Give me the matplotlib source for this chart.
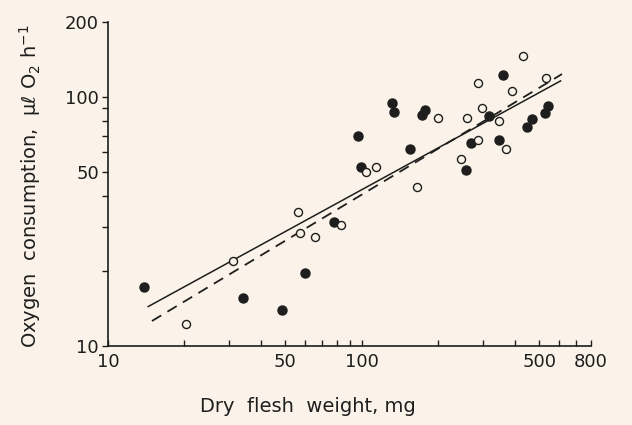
import numpy as np
import matplotlib
matplotlib.use('Agg')
import matplotlib.pyplot as plt
from matplotlib.ticker import FixedLocator, NullFormatter

# filled circles (dry flesh weight mg, O2 consumption ul/h)
filled_w = [13.9, 34.1, 48.4, 59.7, 77.8, 96.4, 98.9, 131, 134.5, 154.5, 173,
            178, 258, 269, 317, 347, 359, 448, 470, 527, 541]
filled_o2 = [17.3, 15.6, 14.0, 19.6, 31.4, 69.9, 52.5, 94.4, 87.1, 61.9, 84.7,
             88.7, 50.8, 65.3, 83.6, 67.0, 122, 75.5, 81.8, 86.5, 92.1]

# open circles
open_w = [20.3, 31.1, 56.1, 57.0, 65.5, 82.9, 103.7, 113.8, 165.6, 200,
          245, 260, 286, 287, 297, 347, 369, 390, 433, 533]
open_o2 = [12.3, 21.9, 34.5, 28.4, 27.5, 30.6, 50.1, 52.2, 43.6, 82.1,
           56.5, 82.4, 114, 67.1, 90.1, 79.9, 61.7, 106, 146, 119]

# regression lines, end points
solid_w = [14.4, 607]
solid_o2 = [14.4, 116]
dashed_w = [14.9, 615]
dashed_o2 = [12.6, 123.6]

xticks = [10, 50, 100, 500, 800]
xminor = [20, 30, 40, 60, 70, 80, 90, 200, 300, 400, 600, 700]
yticks = [10, 50, 100, 200]
yminor = [20, 30, 40, 60, 70, 80, 90]

bg = '#fbf3e9'
ink = '#1e1e1e'

plt.rcParams['font.family'] = ['DejaVu Sans']
plt.rcParams['font.size'] = 13
plt.rcParams['mathtext.default'] = 'regular'

fig = plt.figure(figsize=(6.32, 4.25), dpi=100, facecolor=bg)
ax = fig.add_axes([108/632, 79/425, 483/632, 324/425], facecolor=bg)

ax.plot(solid_w, solid_o2, color=ink, lw=1.1, ls='-')
ax.plot(dashed_w, dashed_o2, color=ink, lw=1.3, ls=(0, (6, 4)))
ax.plot(filled_w, filled_o2, 'o', ms=6.5, color=ink, mec=ink, zorder=3)
ax.plot(open_w, open_o2, 'o', ms=5.8, mfc=bg, mec=ink, mew=1.0, zorder=3)

ax.set_xscale('log')
ax.set_yscale('log')
ax.set_xlim(10, 800)
ax.set_ylim(10, 200)

ax.xaxis.set_major_locator(FixedLocator(xticks))
ax.xaxis.set_minor_locator(FixedLocator(xminor))
ax.set_xticklabels([str(t) for t in xticks])
ax.xaxis.set_minor_formatter(NullFormatter())
ax.yaxis.set_major_locator(FixedLocator(yticks))
ax.yaxis.set_minor_locator(FixedLocator(yminor))
ax.set_yticklabels([str(t) for t in yticks])
ax.yaxis.set_minor_formatter(NullFormatter())

ax.tick_params(axis='x', which='both', direction='in', length=4.5, width=1, colors=ink, pad=5)
ax.tick_params(axis='y', which='both', direction='out', length=4.5, width=1, colors=ink, pad=2)

for s in ['top', 'right']:
    ax.spines[s].set_visible(False)
for s in ['left', 'bottom']:
    ax.spines[s].set_linewidth(1.2)
    ax.spines[s].set_color(ink)

fig.text(30/632, 1 - 186/425, 'Oxygen  consumption,  μℓ O$_2$ h$^{-1}$',
         rotation=90, ha='center', va='center', color=ink, fontsize=14)
fig.text(308/632, 1 - 407/425, 'Dry  flesh  weight, mg', ha='center', va='center',
         color=ink, fontsize=14)

plt.savefig('out.png', dpi=100, facecolor=bg)
